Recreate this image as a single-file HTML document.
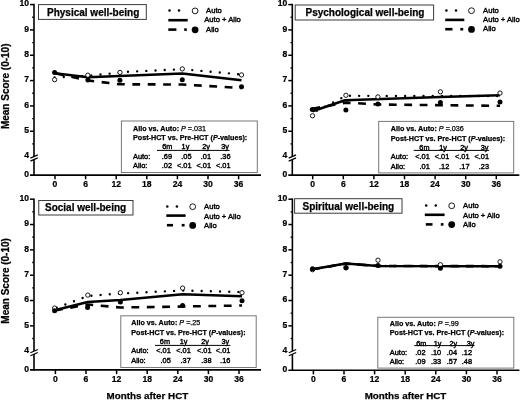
<!DOCTYPE html><html><head><meta charset="utf-8"><style>html,body{margin:0;padding:0;background:#fff;width:520px;height:400px;overflow:hidden}svg{display:block;will-change:transform;filter:blur(0.3px)}text.b{stroke:#000;stroke-width:0.25px}text.r{stroke:#000;stroke-width:0.4px}text.r2{stroke:#000;stroke-width:0.35px}</style></head><body>
<svg width="520" height="400" viewBox="0 0 520 400" font-family='"Liberation Sans", sans-serif'>
<line x1="34" y1="3.8" x2="34" y2="175.9" stroke="#000" stroke-width="1.6" />
<line x1="30" y1="4.6" x2="34" y2="4.6" stroke="#000" stroke-width="1.5" />
<text transform="translate(29 6.3) scale(0.915 1)" font-size="9.4" font-weight="bold" text-anchor="end" class="b">10</text>
<line x1="30" y1="29.93" x2="34" y2="29.93" stroke="#000" stroke-width="1.5" />
<text transform="translate(29 31.63) scale(0.915 1)" font-size="9.4" font-weight="bold" text-anchor="end" class="b">9</text>
<line x1="30" y1="55.26" x2="34" y2="55.26" stroke="#000" stroke-width="1.5" />
<text transform="translate(29 56.96) scale(0.915 1)" font-size="9.4" font-weight="bold" text-anchor="end" class="b">8</text>
<line x1="30" y1="80.59" x2="34" y2="80.59" stroke="#000" stroke-width="1.5" />
<text transform="translate(29 82.29) scale(0.915 1)" font-size="9.4" font-weight="bold" text-anchor="end" class="b">7</text>
<line x1="30" y1="105.92" x2="34" y2="105.92" stroke="#000" stroke-width="1.5" />
<text transform="translate(29 107.62) scale(0.915 1)" font-size="9.4" font-weight="bold" text-anchor="end" class="b">6</text>
<line x1="30" y1="131.25" x2="34" y2="131.25" stroke="#000" stroke-width="1.5" />
<text transform="translate(29 132.95) scale(0.915 1)" font-size="9.4" font-weight="bold" text-anchor="end" class="b">5</text>
<line x1="32.2" y1="17.27" x2="34" y2="17.27" stroke="#000" stroke-width="1.3" />
<line x1="32.2" y1="42.59" x2="34" y2="42.59" stroke="#000" stroke-width="1.3" />
<line x1="32.2" y1="67.92" x2="34" y2="67.92" stroke="#000" stroke-width="1.3" />
<line x1="32.2" y1="93.25" x2="34" y2="93.25" stroke="#000" stroke-width="1.3" />
<line x1="32.2" y1="118.58" x2="34" y2="118.58" stroke="#000" stroke-width="1.3" />
<line x1="32.2" y1="143.91" x2="34" y2="143.91" stroke="#000" stroke-width="1.3" />
<text transform="translate(29 158.28) scale(0.915 1)" font-size="9.4" font-weight="bold" text-anchor="end" class="b">4</text>
<polygon points="30.5,158.18 37.5,155.18 37.5,158.18 30.5,161.18" fill="#fff"/>
<line x1="30.4" y1="158.08" x2="37.8" y2="154.88" stroke="#000" stroke-width="1.2" />
<line x1="30.4" y1="161.08" x2="37.8" y2="157.88" stroke="#000" stroke-width="1.2" />
<text transform="translate(29 176.8) scale(0.915 1)" font-size="9.4" font-weight="bold" text-anchor="end" class="b">0</text>
<line x1="30" y1="175.1" x2="261" y2="175.1" stroke="#000" stroke-width="1.6" />
<line x1="55" y1="175.1" x2="55" y2="179.3" stroke="#000" stroke-width="1.5" />
<text transform="translate(55 187.2) scale(0.915 1)" font-size="9.4" font-weight="bold" text-anchor="middle" class="b">0</text>
<line x1="85.6" y1="175.1" x2="85.6" y2="179.3" stroke="#000" stroke-width="1.5" />
<text transform="translate(85.6 187.2) scale(0.915 1)" font-size="9.4" font-weight="bold" text-anchor="middle" class="b">6</text>
<line x1="116.2" y1="175.1" x2="116.2" y2="179.3" stroke="#000" stroke-width="1.5" />
<text transform="translate(116.2 187.2) scale(0.915 1)" font-size="9.4" font-weight="bold" text-anchor="middle" class="b">12</text>
<line x1="146.8" y1="175.1" x2="146.8" y2="179.3" stroke="#000" stroke-width="1.5" />
<text transform="translate(146.8 187.2) scale(0.915 1)" font-size="9.4" font-weight="bold" text-anchor="middle" class="b">18</text>
<line x1="177.4" y1="175.1" x2="177.4" y2="179.3" stroke="#000" stroke-width="1.5" />
<text transform="translate(177.4 187.2) scale(0.915 1)" font-size="9.4" font-weight="bold" text-anchor="middle" class="b">24</text>
<line x1="208" y1="175.1" x2="208" y2="179.3" stroke="#000" stroke-width="1.5" />
<text transform="translate(208 187.2) scale(0.915 1)" font-size="9.4" font-weight="bold" text-anchor="middle" class="b">30</text>
<line x1="238.6" y1="175.1" x2="238.6" y2="179.3" stroke="#000" stroke-width="1.5" />
<text transform="translate(238.6 187.2) scale(0.915 1)" font-size="9.4" font-weight="bold" text-anchor="middle" class="b">36</text>
<rect x="38.5" y="4.6" width="107.8" height="14.8" fill="#fff" stroke="#3a3a3a" stroke-width="1"/>
<text x="47" y="15.6" font-size="10" font-weight="bold" text-anchor="start" class="b" >Physical well-being</text>
<circle cx="169.5" cy="10.6" r="1.25" fill="#000"/>
<circle cx="179" cy="10.6" r="1.25" fill="#000"/>
<circle cx="195.1" cy="10.9" r="2.9" fill="#fff" stroke="#000" stroke-width="0.9"/>
<text x="206.1" y="13.3" font-size="7.6" font-weight="normal" text-anchor="start" class="r" >Auto</text>
<line x1="168.3" y1="20.2" x2="187.7" y2="20.2" stroke="#000" stroke-width="2.6" />
<text x="204.3" y="22.3" font-size="7.6" font-weight="normal" text-anchor="start" class="r" >Auto + Allo</text>
<line x1="168.3" y1="29.6" x2="176.4" y2="29.6" stroke="#000" stroke-width="2.6" />
<line x1="184.2" y1="29.6" x2="186.8" y2="29.6" stroke="#000" stroke-width="2.6" />
<circle cx="195.1" cy="29.8" r="3.4" fill="#000"/>
<text x="206.1" y="31.9" font-size="7.6" font-weight="normal" text-anchor="start" class="r" >Allo</text>
<rect x="121.4" y="121" width="135.9" height="51.5" fill="#fff" stroke="#777" stroke-width="1"/>
<text x="133" y="130.5" font-size="7.2" font-weight="bold" class="b">Allo vs. Auto: <tspan font-style="italic" font-weight="normal">P</tspan><tspan font-weight="normal"> =.031</tspan></text>
<text x="133" y="140.2" font-size="7.2" font-weight="bold" class="b">Post-HCT vs. Pre-HCT (<tspan font-style="italic">P</tspan>-values):</text>
<text x="172.3" y="149.4" font-size="7.3" font-weight="normal" text-anchor="end" class="r" >6m</text>
<text x="189.3" y="149.4" font-size="7.3" font-weight="normal" text-anchor="end" class="r" >1y</text>
<text x="210" y="149.4" font-size="7.3" font-weight="normal" text-anchor="end" class="r" >2y</text>
<text x="229" y="149.4" font-size="7.3" font-weight="normal" text-anchor="end" class="r" >3y</text>
<line x1="157" y1="150.4" x2="229.6" y2="150.4" stroke="#000" stroke-width="1.0" />
<text x="133" y="159.2" font-size="7.4" font-weight="normal" text-anchor="start" class="r" >Auto:</text>
<text x="133" y="168.2" font-size="7.4" font-weight="normal" text-anchor="start" class="r" >Allo:</text>
<text x="172" y="159.2" font-size="7.4" font-weight="normal" text-anchor="end" class="r" >.69</text>
<text x="191.5" y="159.2" font-size="7.4" font-weight="normal" text-anchor="end" class="r" >.05</text>
<text x="211" y="159.2" font-size="7.4" font-weight="normal" text-anchor="end" class="r" >.01</text>
<text x="230.5" y="159.2" font-size="7.4" font-weight="normal" text-anchor="end" class="r" >.36</text>
<text x="172" y="168.2" font-size="7.4" font-weight="normal" text-anchor="end" class="r" >.02</text>
<text x="191.5" y="168.2" font-size="7.4" font-weight="normal" text-anchor="end" class="r" >&lt;.01</text>
<text x="211" y="168.2" font-size="7.4" font-weight="normal" text-anchor="end" class="r" >&lt;.01</text>
<text x="230.5" y="168.2" font-size="7.4" font-weight="normal" text-anchor="end" class="r" >&lt;.01</text>
<polyline points="54.6,77.5 87.9,75.8 128,71.8 182.3,69.2 241.5,74.5" fill="none" stroke="#000" stroke-width="2.4" stroke-linejoin="round" stroke-dasharray="0 9.2" stroke-dashoffset="0" stroke-linecap="round"/>
<polyline points="54.6,73 87.9,80.5 120,84.3 182.3,84.5 241.5,88" fill="none" stroke="#000" stroke-width="2.6" stroke-linejoin="round" stroke-dasharray="7.8 7.6" stroke-dashoffset="-1.8"/>
<polyline points="54.6,73.2 87.9,77.3 182.3,73.4 241.5,80.2" fill="none" stroke="#000" stroke-width="2.5" stroke-linejoin="round" />
<circle cx="54.6" cy="79.7" r="2.15" fill="#fff" stroke="#000" stroke-width="0.9"/>
<circle cx="87.8" cy="75.2" r="2.15" fill="#fff" stroke="#000" stroke-width="0.9"/>
<circle cx="120" cy="72.4" r="2.15" fill="#fff" stroke="#000" stroke-width="0.9"/>
<circle cx="182.3" cy="68.9" r="2.15" fill="#fff" stroke="#000" stroke-width="0.9"/>
<circle cx="241.5" cy="74.9" r="2.15" fill="#fff" stroke="#000" stroke-width="0.9"/>
<circle cx="54.6" cy="72.6" r="2.5" fill="#000"/>
<circle cx="87.9" cy="80" r="2.5" fill="#000"/>
<circle cx="119.9" cy="80.3" r="2.5" fill="#000"/>
<circle cx="182.3" cy="79.7" r="2.5" fill="#000"/>
<circle cx="241.5" cy="86.8" r="2.5" fill="#000"/>
<line x1="292.3" y1="3.8" x2="292.3" y2="175.9" stroke="#000" stroke-width="1.6" />
<line x1="288.3" y1="4.6" x2="292.3" y2="4.6" stroke="#000" stroke-width="1.5" />
<text transform="translate(287.3 6.3) scale(0.915 1)" font-size="9.4" font-weight="bold" text-anchor="end" class="b">10</text>
<line x1="288.3" y1="29.93" x2="292.3" y2="29.93" stroke="#000" stroke-width="1.5" />
<text transform="translate(287.3 31.63) scale(0.915 1)" font-size="9.4" font-weight="bold" text-anchor="end" class="b">9</text>
<line x1="288.3" y1="55.26" x2="292.3" y2="55.26" stroke="#000" stroke-width="1.5" />
<text transform="translate(287.3 56.96) scale(0.915 1)" font-size="9.4" font-weight="bold" text-anchor="end" class="b">8</text>
<line x1="288.3" y1="80.59" x2="292.3" y2="80.59" stroke="#000" stroke-width="1.5" />
<text transform="translate(287.3 82.29) scale(0.915 1)" font-size="9.4" font-weight="bold" text-anchor="end" class="b">7</text>
<line x1="288.3" y1="105.92" x2="292.3" y2="105.92" stroke="#000" stroke-width="1.5" />
<text transform="translate(287.3 107.62) scale(0.915 1)" font-size="9.4" font-weight="bold" text-anchor="end" class="b">6</text>
<line x1="288.3" y1="131.25" x2="292.3" y2="131.25" stroke="#000" stroke-width="1.5" />
<text transform="translate(287.3 132.95) scale(0.915 1)" font-size="9.4" font-weight="bold" text-anchor="end" class="b">5</text>
<line x1="290.5" y1="17.27" x2="292.3" y2="17.27" stroke="#000" stroke-width="1.3" />
<line x1="290.5" y1="42.59" x2="292.3" y2="42.59" stroke="#000" stroke-width="1.3" />
<line x1="290.5" y1="67.92" x2="292.3" y2="67.92" stroke="#000" stroke-width="1.3" />
<line x1="290.5" y1="93.25" x2="292.3" y2="93.25" stroke="#000" stroke-width="1.3" />
<line x1="290.5" y1="118.58" x2="292.3" y2="118.58" stroke="#000" stroke-width="1.3" />
<line x1="290.5" y1="143.91" x2="292.3" y2="143.91" stroke="#000" stroke-width="1.3" />
<text transform="translate(287.3 158.28) scale(0.915 1)" font-size="9.4" font-weight="bold" text-anchor="end" class="b">4</text>
<polygon points="288.8,158.18 295.8,155.18 295.8,158.18 288.8,161.18" fill="#fff"/>
<line x1="288.7" y1="158.08" x2="296.1" y2="154.88" stroke="#000" stroke-width="1.2" />
<line x1="288.7" y1="161.08" x2="296.1" y2="157.88" stroke="#000" stroke-width="1.2" />
<text transform="translate(287.3 176.8) scale(0.915 1)" font-size="9.4" font-weight="bold" text-anchor="end" class="b">0</text>
<line x1="288.3" y1="175.1" x2="519.3" y2="175.1" stroke="#000" stroke-width="1.6" />
<line x1="312.7" y1="175.1" x2="312.7" y2="179.3" stroke="#000" stroke-width="1.5" />
<text transform="translate(312.7 187.2) scale(0.915 1)" font-size="9.4" font-weight="bold" text-anchor="middle" class="b">0</text>
<line x1="343.3" y1="175.1" x2="343.3" y2="179.3" stroke="#000" stroke-width="1.5" />
<text transform="translate(343.3 187.2) scale(0.915 1)" font-size="9.4" font-weight="bold" text-anchor="middle" class="b">6</text>
<line x1="373.9" y1="175.1" x2="373.9" y2="179.3" stroke="#000" stroke-width="1.5" />
<text transform="translate(373.9 187.2) scale(0.915 1)" font-size="9.4" font-weight="bold" text-anchor="middle" class="b">12</text>
<line x1="404.5" y1="175.1" x2="404.5" y2="179.3" stroke="#000" stroke-width="1.5" />
<text transform="translate(404.5 187.2) scale(0.915 1)" font-size="9.4" font-weight="bold" text-anchor="middle" class="b">18</text>
<line x1="435.1" y1="175.1" x2="435.1" y2="179.3" stroke="#000" stroke-width="1.5" />
<text transform="translate(435.1 187.2) scale(0.915 1)" font-size="9.4" font-weight="bold" text-anchor="middle" class="b">24</text>
<line x1="465.7" y1="175.1" x2="465.7" y2="179.3" stroke="#000" stroke-width="1.5" />
<text transform="translate(465.7 187.2) scale(0.915 1)" font-size="9.4" font-weight="bold" text-anchor="middle" class="b">30</text>
<line x1="496.3" y1="175.1" x2="496.3" y2="179.3" stroke="#000" stroke-width="1.5" />
<text transform="translate(496.3 187.2) scale(0.915 1)" font-size="9.4" font-weight="bold" text-anchor="middle" class="b">36</text>
<rect x="295.2" y="5" width="138.4" height="15" fill="#fff" stroke="#3a3a3a" stroke-width="1"/>
<text x="305.5" y="16.1" font-size="10" font-weight="bold" text-anchor="start" class="b" >Psychological well-being</text>
<circle cx="446.4" cy="10.4" r="1.25" fill="#000"/>
<circle cx="456" cy="10.4" r="1.25" fill="#000"/>
<circle cx="471.5" cy="10.7" r="2.9" fill="#fff" stroke="#000" stroke-width="0.9"/>
<text x="483.1" y="13.2" font-size="7.6" font-weight="normal" text-anchor="start" class="r" >Auto</text>
<line x1="445.2" y1="19.9" x2="464.3" y2="19.9" stroke="#000" stroke-width="2.6" />
<text x="483.1" y="22.3" font-size="7.6" font-weight="normal" text-anchor="start" class="r" >Auto + Allo</text>
<line x1="445.2" y1="29.2" x2="452.5" y2="29.2" stroke="#000" stroke-width="2.6" />
<line x1="460.3" y1="29.2" x2="463.2" y2="29.2" stroke="#000" stroke-width="2.6" />
<circle cx="471.5" cy="29.4" r="3.4" fill="#000"/>
<text x="483.1" y="31.3" font-size="7.6" font-weight="normal" text-anchor="start" class="r" >Allo</text>
<rect x="378.7" y="121.4" width="135" height="51.5" fill="#fff" stroke="#777" stroke-width="1"/>
<text x="390.8" y="130.6" font-size="7.2" font-weight="bold" class="b">Allo vs. Auto: <tspan font-style="italic" font-weight="normal">P</tspan><tspan font-weight="normal"> =.036</tspan></text>
<text x="390.8" y="140.5" font-size="7.2" font-weight="bold" class="b">Post-HCT vs. Pre-HCT (<tspan font-style="italic">P</tspan>-values):</text>
<text x="429.5" y="149.6" font-size="7.3" font-weight="normal" text-anchor="end" class="r" >6m</text>
<text x="447" y="149.6" font-size="7.3" font-weight="normal" text-anchor="end" class="r" >1y</text>
<text x="468" y="149.6" font-size="7.3" font-weight="normal" text-anchor="end" class="r" >2y</text>
<text x="488.4" y="149.6" font-size="7.3" font-weight="normal" text-anchor="end" class="r" >3y</text>
<line x1="413.7" y1="150.4" x2="489" y2="150.4" stroke="#000" stroke-width="1.0" />
<text x="390.8" y="159.1" font-size="7.4" font-weight="normal" text-anchor="start" class="r" >Auto:</text>
<text x="390.8" y="168.6" font-size="7.4" font-weight="normal" text-anchor="start" class="r" >Allo:</text>
<text x="429.8" y="159.1" font-size="7.4" font-weight="normal" text-anchor="end" class="r" >&lt;.01</text>
<text x="449.3" y="159.1" font-size="7.4" font-weight="normal" text-anchor="end" class="r" >&lt;.01</text>
<text x="469.5" y="159.1" font-size="7.4" font-weight="normal" text-anchor="end" class="r" >&lt;.01</text>
<text x="489" y="159.1" font-size="7.4" font-weight="normal" text-anchor="end" class="r" >&lt;.01</text>
<text x="429.8" y="168.6" font-size="7.4" font-weight="normal" text-anchor="end" class="r" >.01</text>
<text x="449.3" y="168.6" font-size="7.4" font-weight="normal" text-anchor="end" class="r" >.12</text>
<text x="469.5" y="168.6" font-size="7.4" font-weight="normal" text-anchor="end" class="r" >.17</text>
<text x="489" y="168.6" font-size="7.4" font-weight="normal" text-anchor="end" class="r" >.23</text>
<polyline points="312.5,113 345.9,95.8 440.4,96 500,96" fill="none" stroke="#000" stroke-width="2.4" stroke-linejoin="round" stroke-dasharray="0 9.2" stroke-dashoffset="-4.8" stroke-linecap="round"/>
<polyline points="312.5,108.7 345.9,102.6 377.9,104.5 440.4,105.2 500,105.8" fill="none" stroke="#000" stroke-width="2.6" stroke-linejoin="round" stroke-dasharray="7.8 7.6" stroke-dashoffset="0"/>
<polyline points="312.5,111.3 345,100.3 440.4,97 500,95.2" fill="none" stroke="#000" stroke-width="2.5" stroke-linejoin="round" />
<circle cx="312.5" cy="115.8" r="2.15" fill="#fff" stroke="#000" stroke-width="0.9"/>
<circle cx="345.9" cy="95.3" r="2.15" fill="#fff" stroke="#000" stroke-width="0.9"/>
<circle cx="377.9" cy="96.9" r="2.15" fill="#fff" stroke="#000" stroke-width="0.9"/>
<circle cx="440.4" cy="91.8" r="2.15" fill="#fff" stroke="#000" stroke-width="0.9"/>
<circle cx="500" cy="93" r="2.15" fill="#fff" stroke="#000" stroke-width="0.9"/>
<circle cx="312.3" cy="109.4" r="2.5" fill="#000"/>
<circle cx="345.9" cy="109.9" r="2.5" fill="#000"/>
<circle cx="377.9" cy="104" r="2.5" fill="#000"/>
<circle cx="440.4" cy="102.5" r="2.5" fill="#000"/>
<circle cx="500" cy="102.1" r="2.5" fill="#000"/>
<line x1="34" y1="198.4" x2="34" y2="370.7" stroke="#000" stroke-width="1.6" />
<line x1="30" y1="199.2" x2="34" y2="199.2" stroke="#000" stroke-width="1.5" />
<text transform="translate(29 200.9) scale(0.915 1)" font-size="9.4" font-weight="bold" text-anchor="end" class="b">10</text>
<line x1="30" y1="224.53" x2="34" y2="224.53" stroke="#000" stroke-width="1.5" />
<text transform="translate(29 226.23) scale(0.915 1)" font-size="9.4" font-weight="bold" text-anchor="end" class="b">9</text>
<line x1="30" y1="249.86" x2="34" y2="249.86" stroke="#000" stroke-width="1.5" />
<text transform="translate(29 251.56) scale(0.915 1)" font-size="9.4" font-weight="bold" text-anchor="end" class="b">8</text>
<line x1="30" y1="275.19" x2="34" y2="275.19" stroke="#000" stroke-width="1.5" />
<text transform="translate(29 276.89) scale(0.915 1)" font-size="9.4" font-weight="bold" text-anchor="end" class="b">7</text>
<line x1="30" y1="300.52" x2="34" y2="300.52" stroke="#000" stroke-width="1.5" />
<text transform="translate(29 302.22) scale(0.915 1)" font-size="9.4" font-weight="bold" text-anchor="end" class="b">6</text>
<line x1="30" y1="325.85" x2="34" y2="325.85" stroke="#000" stroke-width="1.5" />
<text transform="translate(29 327.55) scale(0.915 1)" font-size="9.4" font-weight="bold" text-anchor="end" class="b">5</text>
<line x1="32.2" y1="211.86" x2="34" y2="211.86" stroke="#000" stroke-width="1.3" />
<line x1="32.2" y1="237.19" x2="34" y2="237.19" stroke="#000" stroke-width="1.3" />
<line x1="32.2" y1="262.52" x2="34" y2="262.52" stroke="#000" stroke-width="1.3" />
<line x1="32.2" y1="287.86" x2="34" y2="287.86" stroke="#000" stroke-width="1.3" />
<line x1="32.2" y1="313.18" x2="34" y2="313.18" stroke="#000" stroke-width="1.3" />
<line x1="32.2" y1="338.51" x2="34" y2="338.51" stroke="#000" stroke-width="1.3" />
<text transform="translate(29 352.88) scale(0.915 1)" font-size="9.4" font-weight="bold" text-anchor="end" class="b">4</text>
<polygon points="30.5,352.78 37.5,349.78 37.5,352.78 30.5,355.78" fill="#fff"/>
<line x1="30.4" y1="352.68" x2="37.8" y2="349.48" stroke="#000" stroke-width="1.2" />
<line x1="30.4" y1="355.68" x2="37.8" y2="352.48" stroke="#000" stroke-width="1.2" />
<text transform="translate(29 371.6) scale(0.915 1)" font-size="9.4" font-weight="bold" text-anchor="end" class="b">0</text>
<line x1="30" y1="369.9" x2="261" y2="369.9" stroke="#000" stroke-width="1.6" />
<line x1="55.4" y1="369.9" x2="55.4" y2="374.1" stroke="#000" stroke-width="1.5" />
<text transform="translate(55.4 382) scale(0.915 1)" font-size="9.4" font-weight="bold" text-anchor="middle" class="b">0</text>
<line x1="86" y1="369.9" x2="86" y2="374.1" stroke="#000" stroke-width="1.5" />
<text transform="translate(86 382) scale(0.915 1)" font-size="9.4" font-weight="bold" text-anchor="middle" class="b">6</text>
<line x1="116.6" y1="369.9" x2="116.6" y2="374.1" stroke="#000" stroke-width="1.5" />
<text transform="translate(116.6 382) scale(0.915 1)" font-size="9.4" font-weight="bold" text-anchor="middle" class="b">12</text>
<line x1="147.2" y1="369.9" x2="147.2" y2="374.1" stroke="#000" stroke-width="1.5" />
<text transform="translate(147.2 382) scale(0.915 1)" font-size="9.4" font-weight="bold" text-anchor="middle" class="b">18</text>
<line x1="177.8" y1="369.9" x2="177.8" y2="374.1" stroke="#000" stroke-width="1.5" />
<text transform="translate(177.8 382) scale(0.915 1)" font-size="9.4" font-weight="bold" text-anchor="middle" class="b">24</text>
<line x1="208.4" y1="369.9" x2="208.4" y2="374.1" stroke="#000" stroke-width="1.5" />
<text transform="translate(208.4 382) scale(0.915 1)" font-size="9.4" font-weight="bold" text-anchor="middle" class="b">30</text>
<line x1="239" y1="369.9" x2="239" y2="374.1" stroke="#000" stroke-width="1.5" />
<text transform="translate(239 382) scale(0.915 1)" font-size="9.4" font-weight="bold" text-anchor="middle" class="b">36</text>
<rect x="38.75" y="200.5" width="94.25" height="14.5" fill="#fff" stroke="#3a3a3a" stroke-width="1"/>
<text x="45" y="211.35" font-size="10" font-weight="bold" text-anchor="start" class="b" >Social well-being</text>
<circle cx="167.3" cy="206.4" r="1.25" fill="#000"/>
<circle cx="176.9" cy="206.4" r="1.25" fill="#000"/>
<circle cx="192.7" cy="206.7" r="2.9" fill="#fff" stroke="#000" stroke-width="0.9"/>
<text x="204.1" y="209.1" font-size="7.6" font-weight="normal" text-anchor="start" class="r" >Auto</text>
<line x1="166.3" y1="215.6" x2="185.6" y2="215.6" stroke="#000" stroke-width="2.6" />
<text x="204.1" y="218.7" font-size="7.6" font-weight="normal" text-anchor="start" class="r" >Auto + Allo</text>
<line x1="166.9" y1="225.2" x2="173" y2="225.2" stroke="#000" stroke-width="2.6" />
<line x1="181.7" y1="225.2" x2="184.6" y2="225.2" stroke="#000" stroke-width="2.6" />
<circle cx="192.7" cy="225.4" r="3.4" fill="#000"/>
<text x="204.1" y="227.5" font-size="7.6" font-weight="normal" text-anchor="start" class="r" >Allo</text>
<rect x="120.8" y="315.8" width="135.4" height="51.7" fill="#fff" stroke="#777" stroke-width="1"/>
<text x="131.3" y="325" font-size="7.2" font-weight="bold" class="b">Allo vs. Auto: <tspan font-style="italic" font-weight="normal">P</tspan><tspan font-weight="normal"> =.25</tspan></text>
<text x="131.3" y="335" font-size="7.2" font-weight="bold" class="b">Post-HCT vs. Pre-HCT (<tspan font-style="italic">P</tspan>-values):</text>
<text x="170" y="344.1" font-size="7.3" font-weight="normal" text-anchor="end" class="r" >6m</text>
<text x="187.5" y="344.1" font-size="7.3" font-weight="normal" text-anchor="end" class="r" >1y</text>
<text x="209" y="344.1" font-size="7.3" font-weight="normal" text-anchor="end" class="r" >2y</text>
<text x="229.2" y="344.1" font-size="7.3" font-weight="normal" text-anchor="end" class="r" >3y</text>
<line x1="155" y1="345.4" x2="230.4" y2="345.4" stroke="#000" stroke-width="1.0" />
<text x="131.3" y="353.3" font-size="7.4" font-weight="normal" text-anchor="start" class="r" >Auto:</text>
<text x="131.3" y="363.3" font-size="7.4" font-weight="normal" text-anchor="start" class="r" >Allo:</text>
<text x="170.8" y="353.3" font-size="7.4" font-weight="normal" text-anchor="end" class="r" >&lt;.01</text>
<text x="190.8" y="353.3" font-size="7.4" font-weight="normal" text-anchor="end" class="r" >&lt;.01</text>
<text x="211.5" y="353.3" font-size="7.4" font-weight="normal" text-anchor="end" class="r" >&lt;.01</text>
<text x="230.4" y="353.3" font-size="7.4" font-weight="normal" text-anchor="end" class="r" >&lt;.01</text>
<text x="170.8" y="363.3" font-size="7.4" font-weight="normal" text-anchor="end" class="r" >.05</text>
<text x="190.8" y="363.3" font-size="7.4" font-weight="normal" text-anchor="end" class="r" >.37</text>
<text x="211.5" y="363.3" font-size="7.4" font-weight="normal" text-anchor="end" class="r" >.38</text>
<text x="230.4" y="363.3" font-size="7.4" font-weight="normal" text-anchor="end" class="r" >.16</text>
<polyline points="54.6,308.5 87.8,296 120.4,293.5 182.6,290.5 242,292" fill="none" stroke="#000" stroke-width="2.4" stroke-linejoin="round" stroke-dasharray="0 9.2" stroke-dashoffset="-2.3" stroke-linecap="round"/>
<polyline points="54.6,310.5 87.8,304.5 120.4,307.5 182.6,306.5 242,305.5" fill="none" stroke="#000" stroke-width="2.6" stroke-linejoin="round" stroke-dasharray="7.8 7.6" stroke-dashoffset="-0.5"/>
<polyline points="54.6,310.2 87.8,302 120.4,300 182.6,294.3 242,296.2" fill="none" stroke="#000" stroke-width="2.5" stroke-linejoin="round" />
<circle cx="54.6" cy="308.1" r="2.15" fill="#fff" stroke="#000" stroke-width="0.9"/>
<circle cx="87.8" cy="295.1" r="2.15" fill="#fff" stroke="#000" stroke-width="0.9"/>
<circle cx="120.4" cy="292.7" r="2.15" fill="#fff" stroke="#000" stroke-width="0.9"/>
<circle cx="182.6" cy="288.1" r="2.15" fill="#fff" stroke="#000" stroke-width="0.9"/>
<circle cx="242" cy="292.7" r="2.15" fill="#fff" stroke="#000" stroke-width="0.9"/>
<circle cx="54.6" cy="310.8" r="2.5" fill="#000"/>
<circle cx="87.6" cy="307.6" r="2.5" fill="#000"/>
<circle cx="120.4" cy="302" r="2.5" fill="#000"/>
<circle cx="182.6" cy="305.4" r="2.5" fill="#000"/>
<circle cx="242" cy="300.8" r="2.5" fill="#000"/>
<line x1="292.4" y1="198.4" x2="292.4" y2="371" stroke="#000" stroke-width="1.6" />
<line x1="288.4" y1="199.2" x2="292.4" y2="199.2" stroke="#000" stroke-width="1.5" />
<text transform="translate(287.4 200.9) scale(0.915 1)" font-size="9.4" font-weight="bold" text-anchor="end" class="b">10</text>
<line x1="288.4" y1="224.53" x2="292.4" y2="224.53" stroke="#000" stroke-width="1.5" />
<text transform="translate(287.4 226.23) scale(0.915 1)" font-size="9.4" font-weight="bold" text-anchor="end" class="b">9</text>
<line x1="288.4" y1="249.86" x2="292.4" y2="249.86" stroke="#000" stroke-width="1.5" />
<text transform="translate(287.4 251.56) scale(0.915 1)" font-size="9.4" font-weight="bold" text-anchor="end" class="b">8</text>
<line x1="288.4" y1="275.19" x2="292.4" y2="275.19" stroke="#000" stroke-width="1.5" />
<text transform="translate(287.4 276.89) scale(0.915 1)" font-size="9.4" font-weight="bold" text-anchor="end" class="b">7</text>
<line x1="288.4" y1="300.52" x2="292.4" y2="300.52" stroke="#000" stroke-width="1.5" />
<text transform="translate(287.4 302.22) scale(0.915 1)" font-size="9.4" font-weight="bold" text-anchor="end" class="b">6</text>
<line x1="288.4" y1="325.85" x2="292.4" y2="325.85" stroke="#000" stroke-width="1.5" />
<text transform="translate(287.4 327.55) scale(0.915 1)" font-size="9.4" font-weight="bold" text-anchor="end" class="b">5</text>
<line x1="290.6" y1="211.86" x2="292.4" y2="211.86" stroke="#000" stroke-width="1.3" />
<line x1="290.6" y1="237.19" x2="292.4" y2="237.19" stroke="#000" stroke-width="1.3" />
<line x1="290.6" y1="262.52" x2="292.4" y2="262.52" stroke="#000" stroke-width="1.3" />
<line x1="290.6" y1="287.86" x2="292.4" y2="287.86" stroke="#000" stroke-width="1.3" />
<line x1="290.6" y1="313.18" x2="292.4" y2="313.18" stroke="#000" stroke-width="1.3" />
<line x1="290.6" y1="338.51" x2="292.4" y2="338.51" stroke="#000" stroke-width="1.3" />
<text transform="translate(287.4 352.88) scale(0.915 1)" font-size="9.4" font-weight="bold" text-anchor="end" class="b">4</text>
<polygon points="288.9,352.78 295.9,349.78 295.9,352.78 288.9,355.78" fill="#fff"/>
<line x1="288.8" y1="352.68" x2="296.2" y2="349.48" stroke="#000" stroke-width="1.2" />
<line x1="288.8" y1="355.68" x2="296.2" y2="352.48" stroke="#000" stroke-width="1.2" />
<text transform="translate(287.4 371.9) scale(0.915 1)" font-size="9.4" font-weight="bold" text-anchor="end" class="b">0</text>
<line x1="288.4" y1="370.2" x2="519.4" y2="370.2" stroke="#000" stroke-width="1.6" />
<line x1="313.4" y1="370.2" x2="313.4" y2="374.4" stroke="#000" stroke-width="1.5" />
<text transform="translate(313.4 382.3) scale(0.915 1)" font-size="9.4" font-weight="bold" text-anchor="middle" class="b">0</text>
<line x1="344" y1="370.2" x2="344" y2="374.4" stroke="#000" stroke-width="1.5" />
<text transform="translate(344 382.3) scale(0.915 1)" font-size="9.4" font-weight="bold" text-anchor="middle" class="b">6</text>
<line x1="374.6" y1="370.2" x2="374.6" y2="374.4" stroke="#000" stroke-width="1.5" />
<text transform="translate(374.6 382.3) scale(0.915 1)" font-size="9.4" font-weight="bold" text-anchor="middle" class="b">12</text>
<line x1="405.2" y1="370.2" x2="405.2" y2="374.4" stroke="#000" stroke-width="1.5" />
<text transform="translate(405.2 382.3) scale(0.915 1)" font-size="9.4" font-weight="bold" text-anchor="middle" class="b">18</text>
<line x1="435.8" y1="370.2" x2="435.8" y2="374.4" stroke="#000" stroke-width="1.5" />
<text transform="translate(435.8 382.3) scale(0.915 1)" font-size="9.4" font-weight="bold" text-anchor="middle" class="b">24</text>
<line x1="466.4" y1="370.2" x2="466.4" y2="374.4" stroke="#000" stroke-width="1.5" />
<text transform="translate(466.4 382.3) scale(0.915 1)" font-size="9.4" font-weight="bold" text-anchor="middle" class="b">30</text>
<line x1="497" y1="370.2" x2="497" y2="374.4" stroke="#000" stroke-width="1.5" />
<text transform="translate(497 382.3) scale(0.915 1)" font-size="9.4" font-weight="bold" text-anchor="middle" class="b">36</text>
<rect x="294.6" y="198.7" width="107.4" height="14.5" fill="#fff" stroke="#3a3a3a" stroke-width="1"/>
<text x="302.5" y="209.55" font-size="10" font-weight="bold" text-anchor="start" class="b" >Spiritual well-being</text>
<circle cx="426.2" cy="205.5" r="1.25" fill="#000"/>
<circle cx="435.8" cy="205.5" r="1.25" fill="#000"/>
<circle cx="451.7" cy="205.8" r="2.9" fill="#fff" stroke="#000" stroke-width="0.9"/>
<text x="463.1" y="208.3" font-size="7.6" font-weight="normal" text-anchor="start" class="r" >Auto</text>
<line x1="424.8" y1="214.8" x2="444.6" y2="214.8" stroke="#000" stroke-width="2.6" />
<text x="463.1" y="217.5" font-size="7.6" font-weight="normal" text-anchor="start" class="r" >Auto + Allo</text>
<line x1="425.8" y1="224.4" x2="432.5" y2="224.4" stroke="#000" stroke-width="2.6" />
<line x1="440.8" y1="224.4" x2="443.5" y2="224.4" stroke="#000" stroke-width="2.6" />
<circle cx="451.7" cy="224.6" r="3.4" fill="#000"/>
<text x="463.1" y="226.7" font-size="7.6" font-weight="normal" text-anchor="start" class="r" >Allo</text>
<rect x="377.8" y="317.3" width="136" height="50.8" fill="#fff" stroke="#777" stroke-width="1"/>
<text x="389.8" y="325.5" font-size="7.2" font-weight="bold" class="b">Allo vs. Auto: <tspan font-style="italic" font-weight="normal">P</tspan><tspan font-weight="normal"> =.99</tspan></text>
<text x="389.8" y="335.2" font-size="7.2" font-weight="bold" class="b">Post-HCT vs. Pre-HCT (<tspan font-style="italic">P</tspan>-values):</text>
<text x="426.4" y="345.8" font-size="7.3" font-weight="normal" text-anchor="end" class="r" >6m</text>
<text x="441.4" y="345.8" font-size="7.3" font-weight="normal" text-anchor="end" class="r" >1y</text>
<text x="457.2" y="345.8" font-size="7.3" font-weight="normal" text-anchor="end" class="r" >2y</text>
<text x="474.4" y="345.8" font-size="7.3" font-weight="normal" text-anchor="end" class="r" >3y</text>
<line x1="414.2" y1="345.6" x2="474.6" y2="345.6" stroke="#000" stroke-width="1.0" />
<text x="389.8" y="354.9" font-size="7.4" font-weight="normal" text-anchor="start" class="r" >Auto:</text>
<text x="389.8" y="363.6" font-size="7.4" font-weight="normal" text-anchor="start" class="r" >Allo:</text>
<text x="425.5" y="354.9" font-size="7.4" font-weight="normal" text-anchor="end" class="r" >.02</text>
<text x="441.2" y="354.9" font-size="7.4" font-weight="normal" text-anchor="end" class="r" >.10</text>
<text x="457" y="354.9" font-size="7.4" font-weight="normal" text-anchor="end" class="r" >.04</text>
<text x="472" y="354.9" font-size="7.4" font-weight="normal" text-anchor="end" class="r" >.12</text>
<text x="425.5" y="363.6" font-size="7.4" font-weight="normal" text-anchor="end" class="r" >.09</text>
<text x="441.2" y="363.6" font-size="7.4" font-weight="normal" text-anchor="end" class="r" >.33</text>
<text x="457" y="363.6" font-size="7.4" font-weight="normal" text-anchor="end" class="r" >.57</text>
<text x="472" y="363.6" font-size="7.4" font-weight="normal" text-anchor="end" class="r" >.48</text>
<polyline points="312.5,269.3 345.8,263.6 378,266 500,266.2" fill="none" stroke="#000" stroke-width="2.4" stroke-linejoin="round" stroke-dasharray="0 9.2" stroke-dashoffset="0" stroke-linecap="round"/>
<polyline points="312.5,269.3 345.8,263.6 378,266 500,266.2" fill="none" stroke="#000" stroke-width="2.6" stroke-linejoin="round" stroke-dasharray="7.8 7.6" stroke-dashoffset="0"/>
<polyline points="312.5,269.3 345.8,263.6 378,266 500,266.2" fill="none" stroke="#000" stroke-width="2.5" stroke-linejoin="round" />
<circle cx="312.5" cy="269.7" r="2.15" fill="#fff" stroke="#000" stroke-width="0.9"/>
<circle cx="346" cy="267.8" r="2.15" fill="#fff" stroke="#000" stroke-width="0.9"/>
<circle cx="378" cy="260.2" r="2.15" fill="#fff" stroke="#000" stroke-width="0.9"/>
<circle cx="440.4" cy="264.7" r="2.15" fill="#fff" stroke="#000" stroke-width="0.9"/>
<circle cx="500" cy="261.8" r="2.15" fill="#fff" stroke="#000" stroke-width="0.9"/>
<circle cx="312.5" cy="268.8" r="2.5" fill="#000"/>
<circle cx="346" cy="267.8" r="2.5" fill="#000"/>
<circle cx="378" cy="265.6" r="2.5" fill="#000"/>
<circle cx="440.4" cy="268.2" r="2.5" fill="#000"/>
<circle cx="500" cy="266.2" r="2.5" fill="#000"/>
<text x="5.6" y="86.3" font-size="10" font-weight="bold" text-anchor="middle" transform="rotate(-90 5.6 86.3)" dy="3.4" class="b">Mean Score (0-10)</text>
<text x="5.6" y="280.9" font-size="10" font-weight="bold" text-anchor="middle" transform="rotate(-90 5.6 280.9)" dy="3.4" class="b">Mean Score (0-10)</text>
<text x="147.4" y="399" font-size="9.8" font-weight="bold" text-anchor="middle" class="b" >Months after HCT</text>
<text x="405.5" y="399" font-size="9.8" font-weight="bold" text-anchor="middle" class="b" >Months after HCT</text>
</svg></body></html>
